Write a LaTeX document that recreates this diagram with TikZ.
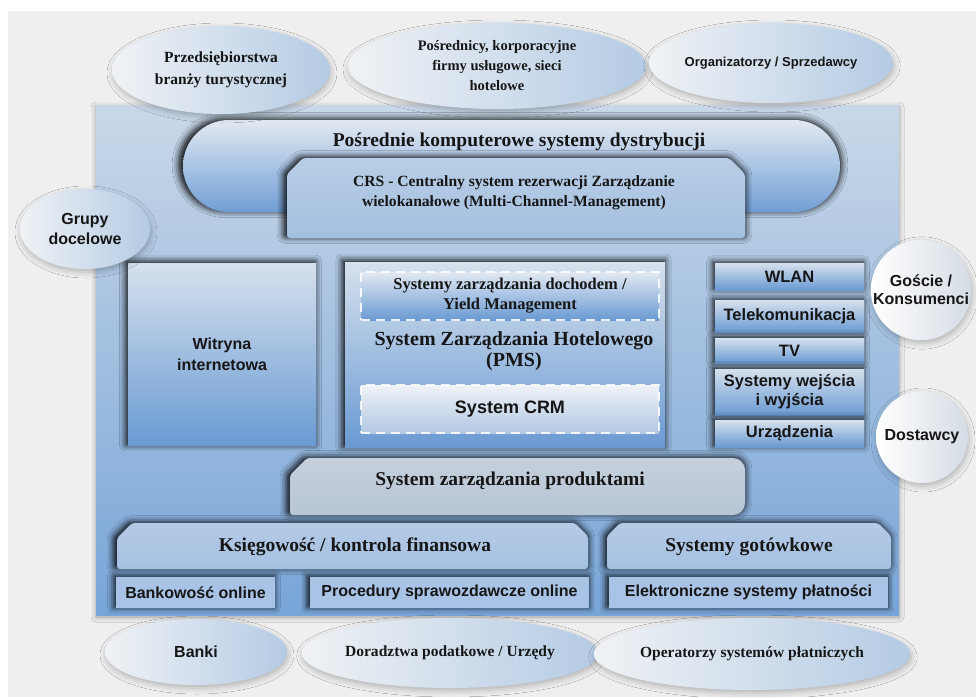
\documentclass[tikz,border=0pt]{standalone}
\usepackage{fontspec}
\setmainfont{Liberation Serif}
\setsansfont{Liberation Sans}
\usetikzlibrary{shapes.geometric,shadows.blur}
\definecolor{bggray}{HTML}{EFEFEF}
\definecolor{panelT}{HTML}{C9D8E8}
\definecolor{panelB}{HTML}{78A5D8}
\definecolor{boxT}{HTML}{D6E1ED}
\definecolor{boxB}{HTML}{6A9AD3}
\definecolor{stadT}{HTML}{E2E9F2}
\definecolor{stadB}{HTML}{709ED5}
\definecolor{crsT}{HTML}{B9CEE6}
\definecolor{crsB}{HTML}{A3BFE0}
\definecolor{prodT}{HTML}{C6D0DC}
\definecolor{prodB}{HTML}{B7C5D5}
\definecolor{finT}{HTML}{B5CBE5}
\definecolor{finB}{HTML}{A4C0E2}
\definecolor{rowF}{HTML}{A8C3E5}
\definecolor{ellL}{HTML}{F0F2F5}
\definecolor{ellR}{HTML}{B4CBE4}
\definecolor{cirL}{HTML}{FFFFFF}
\definecolor{cirR}{HTML}{D5DCE5}
\definecolor{crmT}{HTML}{F0F3F7}
\definecolor{crmB}{HTML}{B2C8E2}
\definecolor{txt}{HTML}{161616}
\newcommand{\myfs}[2]{\fontsize{#1}{#2}\selectfont}
\tikzset{
  darksh/.style={blur shadow={shadow xshift=-1.5pt, shadow yshift=1pt, shadow scale=1.01, shadow blur radius=6pt, shadow opacity=90}},
  softsh/.style={blur shadow={shadow xshift=1pt, shadow yshift=-3pt, shadow blur radius=6pt, shadow opacity=25}},
  lbl/.style={text=txt, align=center, inner sep=0pt},
  ell/.style={ellipse, left color=ellL, right color=ellR, softsh, inner sep=0pt, text=txt, align=center},
  cir/.style={circle, left color=cirL, right color=cirR, softsh, inner sep=0pt, text=txt, align=center},
  gbox/.style={rectangle, top color=boxT, bottom color=boxB, darksh, inner sep=0pt, text=txt, align=center},
  dbox/.style={rectangle, draw=white, draw opacity=0.85, dash pattern=on 9pt off 6pt, line width=1.2pt, inner sep=0pt, text=txt, align=center},
  rowbox/.style={rectangle, fill=rowF, darksh, inner sep=0pt, text=txt, align=center, font=\bfseries\sffamily\myfs{16}{19}},
  stbox/.style={gbox, minimum width=149pt, font=\bfseries\sffamily\myfs{16.5}{20}},
}
\begin{document}
\begin{tikzpicture}[x=1pt,y=-1pt]
\useasboundingbox (0,0) rectangle (976,697);
% background
\fill[white] (0,0) rectangle (976,697);
\fill[bggray] (8,11) rectangle (976,697);
% main panel
\path[top color=panelT, bottom color=panelB, blur shadow={shadow xshift=0pt, shadow yshift=-2pt, shadow blur radius=5pt, shadow opacity=35}] (96,105) rectangle (899,615);

% distribution stadium
\path[rounded corners=46pt, top color=stadT, bottom color=stadB, darksh] (183,120) rectangle (840,212);
\node[lbl, font=\bfseries\rmfamily\myfs{19.5}{23}] (pos) at (519,142) {Pośrednie komputerowe systemy dystrybucji};

% CRS
\path[rounded corners=3pt, top color=crsT, bottom color=crsB, darksh]
  (287,238) -- (287,174) -- (303,158) -- (729,158) -- (745,174) -- (745,238) -- cycle;
\node[lbl, font=\bfseries\rmfamily\myfs{15.6}{20}] (crs) at (514,193) {CRS - Centralny system rezerwacji Zarządzanie\\wielokanałowe (Multi-Channel-Management)};

% Witryna
\node[gbox, minimum width=188pt, minimum height=182pt, font=\bfseries\sffamily\myfs{16}{21}] (wit) at (222,354) {Witryna\\internetowa};

% PMS
\node[gbox, minimum width=320pt, minimum height=185pt] (pms) at (505,354.5) {};
\node[dbox, top color=stadT, bottom color=boxB, minimum width=298pt, minimum height=48pt, font=\bfseries\rmfamily\myfs{16.5}{20}] (yield) at (510,296) {Systemy zarządzania dochodem /\\Yield Management};
\node[lbl, font=\bfseries\rmfamily\myfs{20}{21.5}] (pmst) at (514,351) {System Zarządzania Hotelowego\\(PMS)};
\node[dbox, top color=crmT, bottom color=crmB, minimum width=298pt, minimum height=48pt, font=\bfseries\sffamily\myfs{18}{20}] (crm) at (510,409) {System CRM};

% right stack
\node[stbox, minimum height=27pt] (wlan) at (789.5,276.5) {WLAN};
\node[stbox, minimum height=32pt] (tel) at (789.5,316) {Telekomunikacja};
\node[stbox, minimum height=25pt] (tv) at (789.5,350.5) {TV};
\node[stbox, minimum height=46pt, font=\bfseries\sffamily\myfs{16.5}{19}] (sys) at (789.5,392) {Systemy wejścia\\i wyjścia};
\node[stbox, minimum height=27pt] (urz) at (789.5,433.5) {Urządzenia};

% product management
\path[top color=prodT, bottom color=prodB, darksh]
  (290,515) [rounded corners=3pt] -- (290,475) -- (307,458) [rounded corners=12pt] -- (745,458) -- (745,515) [rounded corners=3pt] -- cycle;
\node[lbl, font=\bfseries\rmfamily\myfs{19.5}{23}] (prod) at (510,481) {System zarządzania produktami};

% finance
\path[rounded corners=3pt, top color=finT, bottom color=finB, darksh]
  (117,569) -- (117,538) -- (132,523) -- (575,523) -- (588,536) -- (588,569) -- cycle;
\node[lbl, font=\bfseries\rmfamily\myfs{19.5}{23}] (ksieg) at (355,547) {Księgowość / kontrola finansowa};
\path[rounded corners=3pt, top color=finT, bottom color=finB, darksh]
  (607,569) -- (607,536) -- (620,523) -- (878,523) -- (891,536) -- (891,569) -- cycle;
\node[lbl, font=\bfseries\rmfamily\myfs{19.5}{23}] (got) at (749,547) {Systemy gotówkowe};

% bottom row
\node[rowbox, minimum width=159pt, minimum height=31pt] (bank) at (195.5,592.5) {Bankowość online};
\node[rowbox, minimum width=279pt, minimum height=31pt] (proc) at (449.5,592.5) {Procedury sprawozdawcze online};
\node[rowbox, minimum width=279pt, minimum height=31pt] (elek) at (748.5,592.5) {Elektroniczne systemy płatności};

% outer ellipses
\node[ell, minimum width=218pt, minimum height=88pt, font=\bfseries\rmfamily\myfs{15.5}{22}] (e1) at (221,70) {Przedsiębiorstwa\\branży turystycznej};
\node[ell, minimum width=298pt, minimum height=86pt, font=\bfseries\rmfamily\myfs{14.5}{20}] (e2) at (497,66) {Pośrednicy, korporacyjne\\firmy usługowe, sieci\\hotelowe};
\node[ell, minimum width=218pt, minimum height=80pt, font=\bfseries\sffamily\myfs{13}{16}] (e3) at (771,63) {Organizatorzy / Sprzedawcy};
\node[ell, minimum width=130pt, minimum height=80pt, font=\bfseries\sffamily\myfs{16}{20}] (grupy) at (85,229) {Grupy\\docelowe};
\node[cir, minimum size=94pt, font=\bfseries\sffamily\myfs{16}{18}] (goscie) at (921,290) {Goście /\\Konsumenci};
\node[cir, minimum size=92pt, font=\bfseries\sffamily\myfs{16}{18}] (dost) at (922,437) {Dostawcy};
\node[ell, minimum width=182pt, minimum height=66pt, font=\bfseries\sffamily\myfs{16}{19}] (banki) at (196,652) {Banki};
\node[ell, minimum width=284pt, minimum height=70pt, font=\bfseries\rmfamily\myfs{15.5}{19}] (dorad) at (450,653) {Doradztwa podatkowe / Urzędy};
\node[ell, minimum width=291pt, minimum height=72pt, font=\bfseries\rmfamily\myfs{15.5}{19}] (oper) at (752,654) {Operatorzy systemów płatniczych};
\end{tikzpicture}
\end{document}
